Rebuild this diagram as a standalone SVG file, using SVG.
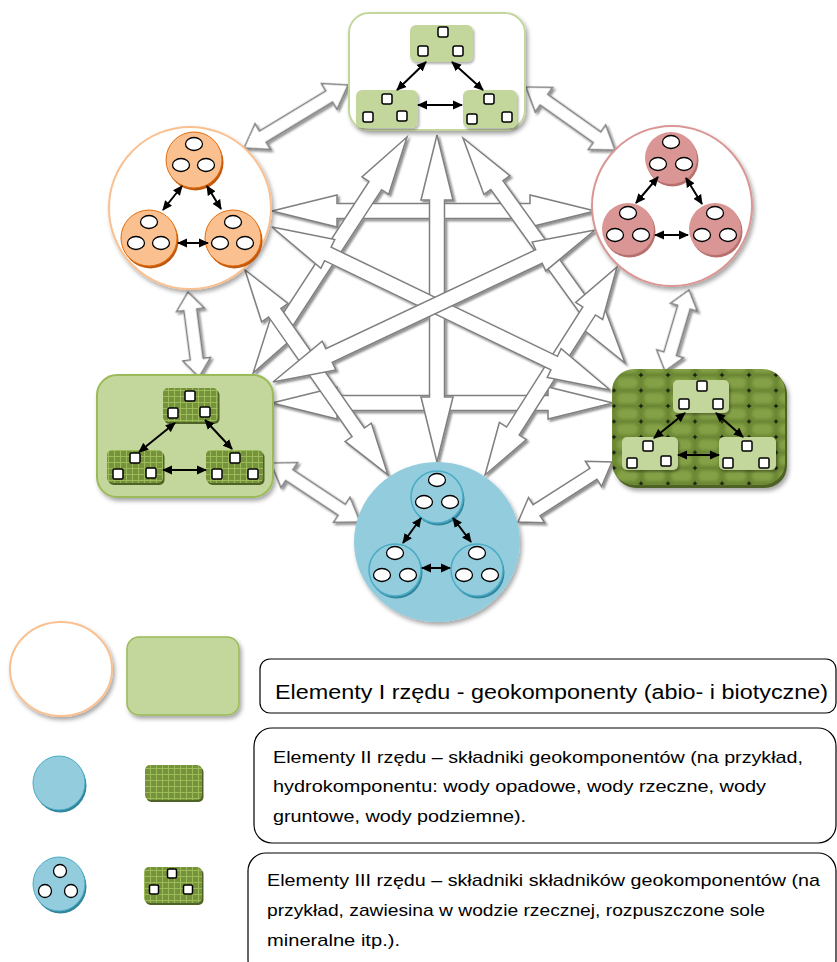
<svg xmlns="http://www.w3.org/2000/svg" width="837" height="962" viewBox="0 0 837 962">
<defs>
<style>
.arr{fill:#fff;stroke:#7f7f7f;stroke-width:1.5;stroke-linejoin:miter}
.ba{fill:none;stroke:#000;stroke-width:2;marker-start:url(#ah);marker-end:url(#ah)}
.sq{fill:#fff;stroke:#000;stroke-width:1.5}
.w{fill:#fff;stroke:#000;stroke-width:1.3}
.lr{fill:#c3d69b}
.gr{fill:url(#grid)}
.rim{fill:#4f6228}
.t{font-family:"Liberation Sans",Arial,sans-serif;fill:#000}
.box{fill:#fff;stroke:#000;stroke-width:1.2}
</style>
<filter id="sh" x="-20%" y="-20%" width="150%" height="150%"><feDropShadow dx="2" dy="3" stdDeviation="2" flood-color="#000" flood-opacity="0.35"/></filter>
<filter id="ash" x="-10%" y="-10%" width="120%" height="120%"><feDropShadow dx="2" dy="2" stdDeviation="1" flood-color="#000" flood-opacity="0.45"/></filter>
<filter id="ss" x="-20%" y="-20%" width="150%" height="150%"><feDropShadow dx="1.5" dy="2" stdDeviation="1" flood-color="#000" flood-opacity="0.3"/></filter>
<filter id="blur1"><feGaussianBlur stdDeviation="1.5"/></filter>
<marker id="ah" viewBox="0 0 10 10" refX="9" refY="5" markerWidth="10" markerHeight="10" markerUnits="userSpaceOnUse" orient="auto-start-reverse"><path d="M0,0.5 L10,5 L0,9.5 Z" fill="#000"/></marker>
<pattern id="grid" patternUnits="userSpaceOnUse" width="6" height="6">
<rect width="6" height="6" fill="#76923c"/>
<path d="M0,0.5H6M0.5,0V6" stroke="#9bbb59" stroke-width="1"/>
</pattern>
<pattern id="dg" patternUnits="userSpaceOnUse" x="614" y="375" width="27" height="15.5">
<rect width="27" height="15.5" fill="#6c8834"/>
<rect x="3" y="2.5" width="21" height="10.5" rx="5" fill="#84a147" filter="url(#blur1)"/>
<path d="M0,0H2.3M0,0V2.3M27,0H24.7M27,0V2.3M0,15.5H2.3M0,15.5V13.2M27,15.5H24.7M27,15.5V13.2" stroke="#000" stroke-width="1"/>
</pattern>
<g id="oIn">
<circle cx="1.5" cy="2.5" r="28" fill="#c0590f"/>
<circle r="28" fill="#fac090" stroke="#e46c0a" stroke-width="1"/>
<ellipse cy="-16" rx="8.5" ry="6.5" class="w"/>
<ellipse cx="-13" cy="5" rx="8.5" ry="6.5" class="w"/>
<ellipse cx="12" cy="5" rx="8.5" ry="6.5" class="w"/>
</g>
<g id="pIn">
<circle cx="1.5" cy="2.5" r="26" fill="#b8706e"/>
<circle r="26" fill="#d99694"/>
<ellipse cy="-16" rx="8.5" ry="6.5" class="w"/>
<ellipse cx="-13" cy="6" rx="8.5" ry="6.5" class="w"/>
<ellipse cx="13" cy="6" rx="8.5" ry="6.5" class="w"/>
</g>
<g id="bIn">
<circle cx="1.5" cy="2.5" r="26" fill="#31859c"/>
<circle r="26" fill="#93cddd" stroke="#4bacc6" stroke-width="1.5"/>
<ellipse cy="-17" rx="8.5" ry="6.5" class="w"/>
<ellipse cx="-13" cy="5" rx="8.5" ry="6.5" class="w"/>
<ellipse cx="13" cy="5" rx="8.5" ry="6.5" class="w"/>
</g>
</defs>

<rect width="837" height="962" fill="#fff"/>

<g id="connectors" filter="url(#ash)">
<path class="arr" transform="translate(272,211)" d="M0,0L65,-16L65,-7.5L258,-7.5L258,-16L323,0L258,16L258,7.5L65,7.5L65,16Z"/>
<path class="arr" transform="translate(272,403)" d="M0,0L65,-16L65,-7.5L276,-7.5L276,-16L341,0L276,16L276,7.5L65,7.5L65,16Z"/>
<path class="arr" transform="translate(437,135) rotate(90)" d="M0,0L65,-16L65,-7.5L262,-7.5L262,-16L327,0L262,16L262,7.5L65,7.5L65,16Z"/>
<path class="arr" transform="translate(407,137) rotate(123.1)" d="M0,0L58,-16L58,-7.5L223.8,-7.5L223.8,-16L281.8,0L223.8,16L223.8,7.5L58,7.5L58,16Z"/>
<path class="arr" transform="translate(463,138) rotate(54.25)" d="M0,0L58,-16L58,-7.5L219.3,-7.5L219.3,-16L277.3,0L219.3,16L219.3,7.5L58,7.5L58,16Z"/>
<path class="arr" transform="translate(245,270) rotate(55.1)" d="M0,0L52,-16L52,-7.5L197.9,-7.5L197.9,-16L249.9,0L197.9,16L197.9,7.5L52,7.5L52,16Z"/>
<path class="arr" transform="translate(617,267) rotate(122.4)" d="M0,0L52,-16L52,-7.5L194.3,-7.5L194.3,-16L246.3,0L194.3,16L194.3,7.5L52,7.5L52,16Z"/>
<path class="arr" transform="translate(272,227) rotate(25.75)" d="M0,0L62,-16L62,-7.5L313.3,-7.5L313.3,-16L375.3,0L313.3,16L313.3,7.5L62,7.5L62,16Z"/>
<path class="arr" transform="translate(595,230) rotate(154.73)" d="M0,0L62,-16L62,-7.5L294.1,-7.5L294.1,-16L356.1,0L294.1,16L294.1,7.5L62,7.5L62,16Z"/>
<path class="arr" transform="translate(244,148) rotate(-31.2)" d="M0,0L22,-15L22,-6.5L99.6,-6.5L99.6,-15L121.6,0L99.6,15L99.6,6.5L22,6.5L22,15Z"/>
<path class="arr" transform="translate(526,87) rotate(35.3)" d="M0,0L22,-15L22,-6.5L87,-6.5L87,-15L109,0L87,15L87,6.5L22,6.5L22,15Z"/>
<path class="arr" transform="translate(188,292) rotate(82.6)" d="M0,0L18,-14L18,-6.5L67.7,-6.5L67.7,-14L85.7,0L67.7,14L67.7,6.5L18,6.5L18,14Z"/>
<path class="arr" transform="translate(689,290) rotate(106.5)" d="M0,0L18,-14L18,-6.5L66.5,-6.5L66.5,-14L84.5,0L66.5,14L66.5,6.5L18,6.5L18,14Z"/>
<path class="arr" transform="translate(271,463) rotate(33.5)" d="M0,0L22,-15L22,-6.5L84.8,-6.5L84.8,-15L106.8,0L84.8,15L84.8,6.5L22,6.5L22,15Z"/>
<path class="arr" transform="translate(612,462) rotate(147.45)" d="M0,0L22,-15L22,-6.5L89.5,-6.5L89.5,-15L111.5,0L89.5,15L89.5,6.5L22,6.5L22,15Z"/>
</g>

<g id="node-top">
<rect x="349" y="13" width="176" height="117" rx="20" fill="#fff" stroke="#c3d69b" stroke-width="2" filter="url(#sh)"/>
<rect x="410" y="25" width="63" height="37" rx="6" class="lr" filter="url(#ss)"/>
<rect x="356" y="90" width="62" height="38" rx="6" class="lr" filter="url(#ss)"/>
<rect x="463" y="90" width="54" height="38" rx="6" class="lr" filter="url(#ss)"/>
<rect x="438" y="27" width="10" height="10" rx="2" class="sq"/>
<rect x="418" y="46" width="10" height="10" rx="2" class="sq"/>
<rect x="453" y="46" width="10" height="10" rx="2" class="sq"/>
<rect x="382" y="94" width="10" height="10" rx="2" class="sq"/>
<rect x="363" y="112" width="10" height="10" rx="2" class="sq"/>
<rect x="397" y="111" width="10" height="10" rx="2" class="sq"/>
<rect x="484" y="94" width="10" height="10" rx="2" class="sq"/>
<rect x="467" y="114" width="10" height="10" rx="2" class="sq"/>
<rect x="502" y="112" width="10" height="10" rx="2" class="sq"/>
<line class="ba" x1="426" y1="62" x2="397" y2="90"/>
<line class="ba" x1="452" y1="62" x2="483" y2="90"/>
<line class="ba" x1="418" y1="105" x2="462" y2="105"/>
</g>

<g id="node-orange">
<circle cx="190" cy="208" r="81" fill="#fff" stroke="#fac090" stroke-width="2" filter="url(#sh)"/>
<use href="#oIn" x="194" y="160"/>
<use href="#oIn" x="149" y="238"/>
<use href="#oIn" x="233" y="238"/>
<line class="ba" x1="182" y1="186" x2="163" y2="210"/>
<line class="ba" x1="207" y1="186" x2="221" y2="209"/>
<line class="ba" x1="178" y1="243" x2="208" y2="243"/>
</g>

<g id="node-pink">
<circle cx="672" cy="206" r="80" fill="#fff" stroke="#d99694" stroke-width="2" filter="url(#sh)"/>
<use href="#pIn" x="671" y="158"/>
<use href="#pIn" x="628" y="229"/>
<use href="#pIn" x="715" y="229"/>
<line class="ba" x1="658" y1="177" x2="636" y2="203"/>
<line class="ba" x1="686" y1="178" x2="702" y2="204"/>
<line class="ba" x1="655" y1="235" x2="688" y2="235"/>
</g>

<g id="node-green">
<rect x="97" y="375" width="176" height="122" rx="20" fill="#c3d69b" stroke="#9bbb59" stroke-width="2" filter="url(#sh)"/>
<rect x="164.5" y="390" width="55" height="34" rx="5" class="rim"/>
<rect x="163" y="388" width="55" height="34" rx="5" class="gr"/>
<rect x="108.5" y="452" width="56" height="33" rx="5" class="rim"/>
<rect x="107" y="450" width="56" height="33" rx="5" class="gr"/>
<rect x="207.5" y="452" width="57" height="33" rx="5" class="rim"/>
<rect x="206" y="450" width="57" height="33" rx="5" class="gr"/>
<rect x="185" y="391" width="10" height="10" rx="1.5" class="sq"/>
<rect x="168" y="408" width="10" height="10" rx="1.5" class="sq"/>
<rect x="200" y="407" width="10" height="10" rx="1.5" class="sq"/>
<rect x="130" y="453" width="10" height="10" rx="1.5" class="sq"/>
<rect x="113" y="469" width="10" height="10" rx="1.5" class="sq"/>
<rect x="146" y="468" width="10" height="10" rx="1.5" class="sq"/>
<rect x="230" y="453" width="10" height="10" rx="1.5" class="sq"/>
<rect x="212" y="469" width="10" height="10" rx="1.5" class="sq"/>
<rect x="248" y="469" width="10" height="10" rx="1.5" class="sq"/>
<line class="ba" x1="175" y1="423" x2="139" y2="452"/>
<line class="ba" x1="205" y1="420" x2="232" y2="449"/>
<line class="ba" x1="163" y1="470" x2="206" y2="470"/>
</g>

<g id="node-darkgreen">
<rect x="614" y="372" width="173" height="116" rx="22" fill="#4f6228" filter="url(#sh)"/>
<rect x="612" y="369" width="173" height="116" rx="22" fill="url(#dg)"/>
<rect x="673" y="380" width="56" height="33" rx="5" class="lr" filter="url(#ss)"/>
<rect x="622" y="437" width="56" height="33" rx="5" class="lr" filter="url(#ss)"/>
<rect x="719" y="437" width="57" height="33" rx="5" class="lr" filter="url(#ss)"/>
<rect x="697" y="381" width="10" height="10" rx="1.5" class="sq"/>
<rect x="679" y="399" width="10" height="10" rx="1.5" class="sq"/>
<rect x="713" y="399" width="10" height="10" rx="1.5" class="sq"/>
<rect x="643" y="441" width="10" height="10" rx="1.5" class="sq"/>
<rect x="627" y="458" width="10" height="10" rx="1.5" class="sq"/>
<rect x="661" y="456" width="10" height="10" rx="1.5" class="sq"/>
<rect x="742" y="441" width="10" height="10" rx="1.5" class="sq"/>
<rect x="723" y="458" width="10" height="10" rx="1.5" class="sq"/>
<rect x="759" y="458" width="10" height="10" rx="1.5" class="sq"/>
<line class="ba" x1="685" y1="413" x2="654" y2="438"/>
<line class="ba" x1="716" y1="413" x2="743" y2="437"/>
<line class="ba" x1="678" y1="455" x2="719" y2="455"/>
</g>

<g id="node-blue">
<ellipse cx="437" cy="542" rx="83" ry="80" fill="#93cddd" filter="url(#sh)"/>
<use href="#bIn" x="437" y="497"/>
<use href="#bIn" x="395" y="570"/>
<use href="#bIn" x="477" y="570"/>
<line class="ba" x1="421" y1="518" x2="403" y2="543"/>
<line class="ba" x1="453" y1="518" x2="471" y2="542"/>
<line class="ba" x1="422" y1="568" x2="450" y2="568"/>
</g>

<g id="legend-1">
<ellipse cx="61" cy="669" rx="51" ry="47" fill="#fff" stroke="#fac090" stroke-width="2" filter="url(#sh)"/>
<rect x="127" y="637" width="112" height="78" rx="12" fill="#c3d69b" stroke="#9bbb59" stroke-width="1.5" filter="url(#sh)"/>
<rect x="260" y="659" width="576" height="54" rx="10" class="box"/>
<text class="t" x="275" y="699" font-size="20" textLength="553" lengthAdjust="spacingAndGlyphs">Elementy I rzędu - geokomponenty (abio- i biotyczne)</text>
</g>

<g id="legend-2">
<ellipse cx="60.5" cy="785.5" rx="26" ry="27" fill="#31859c"/>
<ellipse cx="59" cy="783" rx="26" ry="27" fill="#93cddd" stroke="#4bacc6" stroke-width="1"/>
<rect x="146.5" y="767" width="57" height="35" rx="5" class="rim"/>
<rect x="145" y="765" width="57" height="35" rx="5" class="gr"/>
<rect x="254" y="728" width="582" height="115" rx="18" class="box"/>
<text class="t" x="273" y="763" font-size="17" textLength="530" lengthAdjust="spacingAndGlyphs">Elementy II rzędu – składniki geokomponentów (na przykład,</text>
<text class="t" x="273" y="792" font-size="17" textLength="493" lengthAdjust="spacingAndGlyphs">hydrokomponentu: wody opadowe, wody rzeczne, wody</text>
<text class="t" x="273" y="822" font-size="17" textLength="253" lengthAdjust="spacingAndGlyphs">gruntowe, wody podziemne).</text>
</g>

<g id="legend-3">
<ellipse cx="60.5" cy="886.5" rx="26" ry="27" fill="#31859c"/>
<ellipse cx="59" cy="884" rx="26" ry="27" fill="#93cddd" stroke="#4bacc6" stroke-width="1"/>
<circle cx="60" cy="871" r="6.5" class="w"/>
<circle cx="45" cy="891" r="6.5" class="w"/>
<circle cx="71" cy="891" r="6.5" class="w"/>
<rect x="145.5" y="869" width="58" height="36" rx="5" class="rim"/>
<rect x="144" y="867" width="58" height="36" rx="5" class="gr"/>
<rect x="167.5" y="869" width="9" height="9" rx="1.5" class="sq"/>
<rect x="149.5" y="885" width="9" height="9" rx="1.5" class="sq"/>
<rect x="183.5" y="885" width="9" height="9" rx="1.5" class="sq"/>
<rect x="248" y="853" width="588" height="125" rx="18" class="box"/>
<text class="t" x="267" y="886" font-size="17" textLength="553" lengthAdjust="spacingAndGlyphs">Elementy III rzędu – składniki składników geokomponentów (na</text>
<text class="t" x="267" y="916" font-size="17" textLength="498" lengthAdjust="spacingAndGlyphs">przykład, zawiesina w wodzie rzecznej, rozpuszczone sole</text>
<text class="t" x="267" y="946" font-size="17" textLength="133" lengthAdjust="spacingAndGlyphs">mineralne itp.).</text>
</g>
</svg>
